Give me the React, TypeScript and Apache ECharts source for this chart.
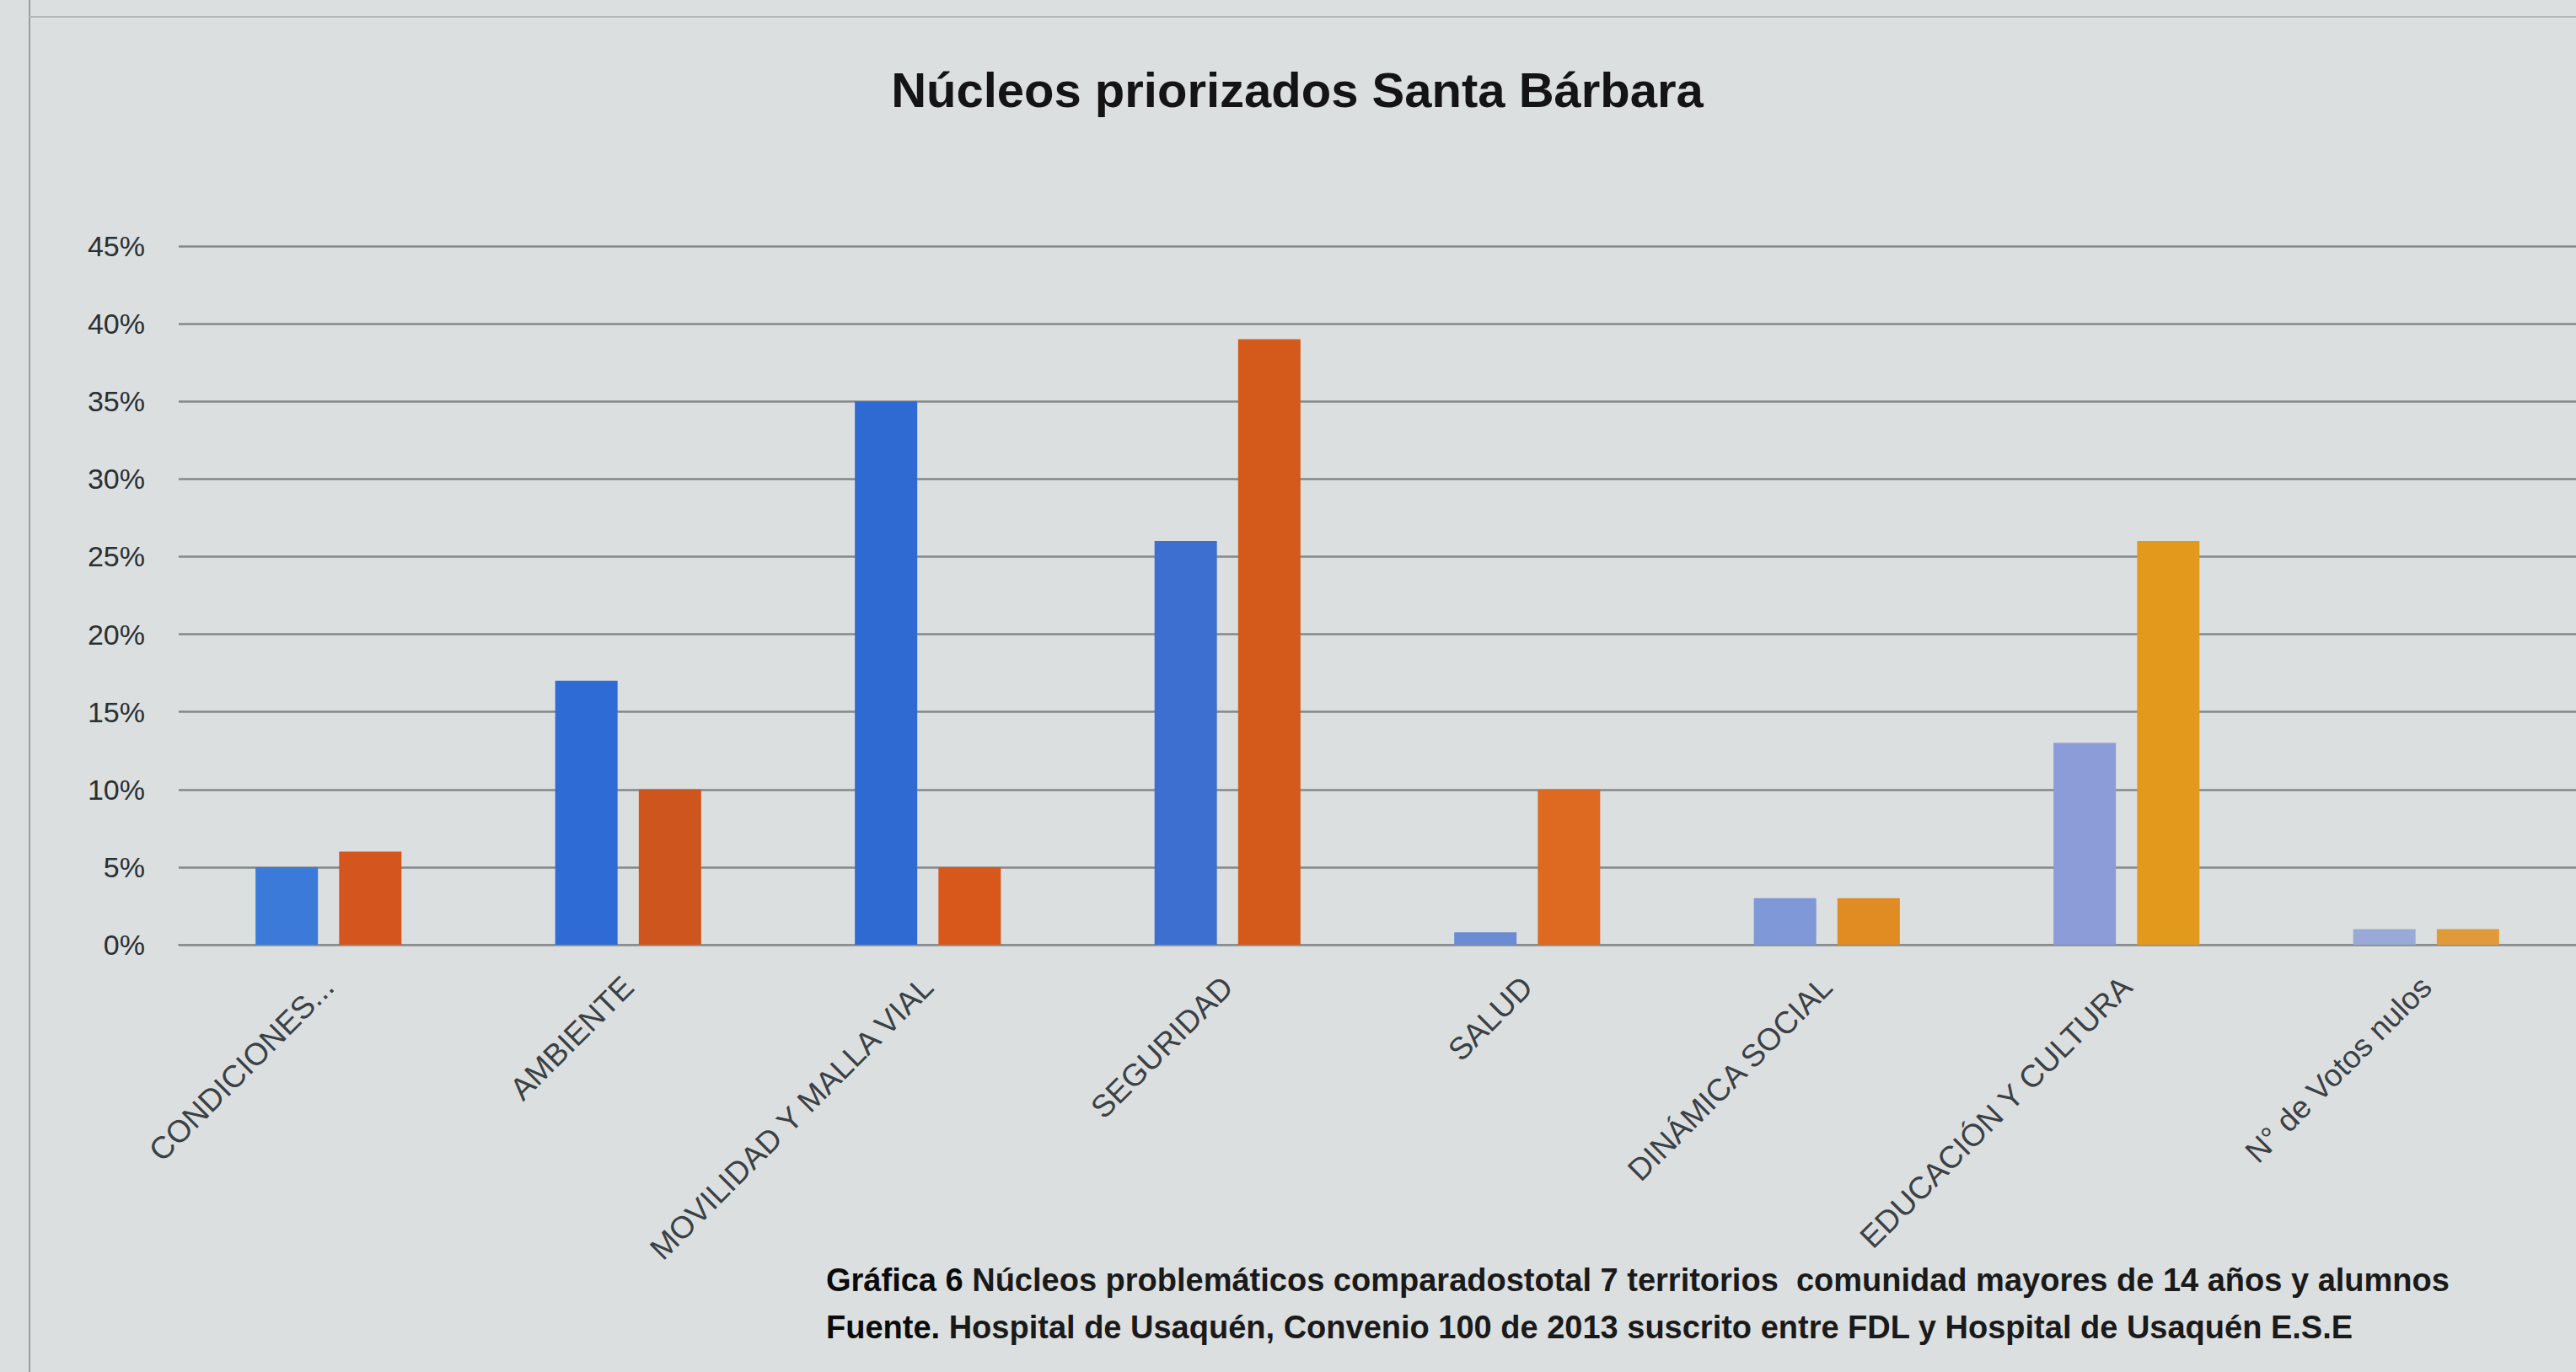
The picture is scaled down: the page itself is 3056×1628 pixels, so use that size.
import React, { useEffect, useRef } from "react";
import * as echarts from "echarts";

const categories = [
  "CONDICIONES...",
  "AMBIENTE",
  "MOVILIDAD Y MALLA VIAL",
  "SEGURIDAD",
  "SALUD",
  "DINÁMICA SOCIAL",
  "EDUCACIÓN Y CULTURA",
  "N° de Votos nulos",
];
const comunidad = [5, 17, 35, 26, 0.8, 3, 13, 1];
const alumnos = [6, 10, 5, 39, 10, 3, 26, 1];
const yTicks = [0, 5, 10, 15, 20, 25, 30, 35, 40, 45];

const blueShades = ["#3b7ad8", "#2f6bd4", "#2f6ad2", "#3d6fd0", "#6b8bd2", "#7f99d8", "#8b9cd9", "#9aaad8"];
const orangeShades = ["#d4561e", "#cf551f", "#d8581c", "#d45a1c", "#dd6a20", "#e08c22", "#e39a1c", "#e09a3a"];

const FONT = "'Liberation Sans Narrow', 'Liberation Sans', 'Noto Sans', sans-serif";

export default function App() {
  const ref = useRef<HTMLDivElement>(null);
  useEffect(() => {
    if (!ref.current) return;
    const chart = echarts.init(ref.current, undefined, { renderer: "svg" });
    chart.setOption({
      animation: false,
      backgroundColor: "#dcdfe0",
      title: {
        text: "Núcleos priorizados Santa Bárbara",
        left: 1534,
        top: 101,
        textAlign: "center",
        textVerticalAlign: "middle",
        textStyle: { fontFamily: FONT, fontWeight: "bold", fontSize: 58, color: "#141414" },
      },
      grid: { left: 212, right: 0, top: 292, bottom: 507, containLabel: false },
      xAxis: {
        type: "category",
        data: categories,
        axisLine: { show: true, lineStyle: { color: "#8a8e90", width: 2 } },
        axisTick: { show: false },
        axisLabel: {
          rotate: 45,
          interval: 0,
          margin: 44,
          fontFamily: FONT,
          fontSize: 37,
          color: "#3a4044",
        },
      },
      yAxis: {
        type: "value",
        min: 0,
        max: yTicks[yTicks.length - 1],
        interval: 5,
        axisLine: { show: false },
        axisTick: { show: false },
        axisLabel: {
          formatter: "{value}%",
          margin: 40,
          fontFamily: FONT,
          fontSize: 34,
          color: "#2a2f32",
        },
        splitLine: { lineStyle: { color: "#84888a", width: 2.5 } },
      },
      series: [
        {
          name: "Comunidad",
          type: "bar",
          barWidth: 74,
          barGap: "34%",
          data: comunidad.map((v, i) => ({ value: v, itemStyle: { color: blueShades[i] } })),
        },
        {
          name: "Alumnos",
          type: "bar",
          barWidth: 74,
          data: alumnos.map((v, i) => ({ value: v, itemStyle: { color: orangeShades[i] } })),
        },
      ],
      graphic: [
        { type: "line", shape: { x1: 35, y1: 0, x2: 35, y2: 1628 }, style: { stroke: "#9a9ea0", lineWidth: 2 } },
        { type: "line", shape: { x1: 35, y1: 20, x2: 3056, y2: 20 }, style: { stroke: "#b4b8ba", lineWidth: 2 } },
        {
          type: "text",
          left: 980,
          top: 1500,
          style: {
            text: "{b|Gráfica 6} Núcleos problemáticos comparadostotal 7 territorios  comunidad mayores de 14 años y alumnos",
            font: `600 38px ${FONT}`,
            fill: "#1a1a1a",
            rich: { b: { fontWeight: "bold", fontSize: 38, fontFamily: FONT, fill: "#0a0a0a" } },
          },
        },
        {
          type: "text",
          left: 980,
          top: 1556,
          style: {
            text: "{b|Fuente.} Hospital de Usaquén, Convenio 100 de 2013 suscrito entre FDL y Hospital de Usaquén E.S.E",
            font: `600 38px ${FONT}`,
            fill: "#1a1a1a",
            rich: { b: { fontWeight: "bold", fontSize: 38, fontFamily: FONT, fill: "#0a0a0a" } },
          },
        },
      ],
    });
    return () => chart.dispose();
  }, []);
  return <div ref={ref} style={{ position: "absolute", left: 0, top: 0, width: 3056, height: 1628 }} />;
}
